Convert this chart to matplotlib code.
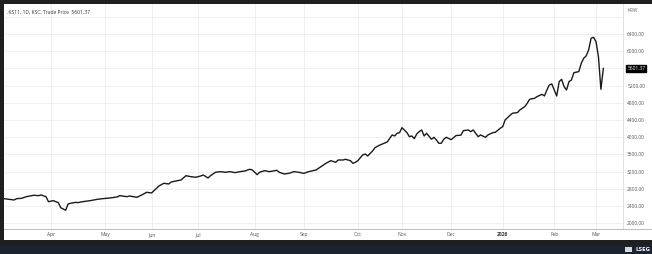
"""
KOSPI (.KS11) daily close, Mar 2025 - Mar 2026, LSEG-style chart
"""

import matplotlib.pyplot as plt
from matplotlib.patches import Rectangle
from matplotlib.lines import Line2D

plt.rcParams['font.family'] = ['Open Sans', 'DejaVu Sans']

# trading days counted from 1 Apr 2025 (negative = March 2025)
trading_day = [
    -19, -15, -14, -12, -10, -7, -5, -4, -2, -1, 1, 3, 4, 5, 6, 7, 8, 10, 11, 13,
    16, 19, 21, 24, 27, 28, 31, 32, 35, 37, 39, 41, 43, 44, 46, 48, 49, 51, 53, 55,
    57, 59, 61, 62, 64, 65, 67, 69, 71, 73, 75, 77, 79, 81, 82, 84, 85, 87, 89, 92,
    93, 95, 97, 99, 101, 103, 105, 108, 110, 112, 114, 116, 117, 119, 120, 122, 123, 124, 125, 127,
    128, 129, 131, 132, 134, 135, 137, 138, 139, 140, 141, 142, 143, 145, 146, 147, 148, 149, 150, 151,
    152, 153, 155, 156, 157, 158, 159, 160, 161, 163, 164, 165, 167, 168, 170, 171, 172, 173, 174, 175,
    177, 178, 180, 181, 183, 184, 185, 187, 188, 190, 191, 193, 194, 195, 197, 198, 200, 201, 202, 203,
    204, 206, 207, 208, 209, 210, 211, 212, 213, 215, 216, 217, 218, 219, 220, 221, 222, 223, 224, 225,
]
close_price = [
    2572, 2542, 2572, 2580, 2619, 2651, 2643, 2658, 2619, 2502, 2526, 2480, 2363, 2333, 2302, 2449, 2464, 2487, 2480, 2503,
    2526, 2558, 2572, 2588, 2612, 2643, 2619, 2635, 2604, 2658, 2721, 2705, 2814, 2868, 2930, 2914, 2961, 2984, 3007, 3107,
    3084, 3070, 3100, 3123, 3054, 3107, 3186, 3201, 3186, 3201, 3178, 3201, 3216, 3256, 3240, 3131, 3186, 3224, 3201, 3232,
    3186, 3147, 3162, 3201, 3186, 3160, 3201, 3240, 3317, 3395, 3456, 3418, 3472, 3472, 3488, 3456, 3395, 3418, 3456, 3589,
    3612, 3565, 3682, 3759, 3821, 3844, 3891, 3977, 4054, 4031, 4093, 4109, 4224, 4109, 4015, 4031, 3968, 4077, 4131, 4170,
    4031, 4093, 3954, 4000, 3938, 3861, 3861, 3954, 4000, 3945, 3990, 4040, 4050, 4154, 4170, 4131, 4170, 4093, 4015, 4054,
    4000, 4054, 4109, 4116, 4209, 4248, 4403, 4512, 4559, 4574, 4636, 4713, 4791, 4884, 4908, 4946, 5000, 4962, 5100, 5217,
    5240, 4961, 5294, 5349, 5178, 5100, 5294, 5333, 5503, 5527, 5721, 5838, 5892, 6031, 6303, 6326, 6224, 5875, 5117, 5601.37,
]
last_price = 5601.37

month_pos = [0, 22, 41, 60, 83, 103, 125, 143, 163, 184, 205, 222]
month_labels = ['Apr', 'May', 'Jun', 'Jul', 'Aug', 'Sep', 'Oct', 'Nov', 'Dec', '2026', 'Feb', 'Mar']

price_ticks = list(range(2000, 6801, 400))

W, H = 652, 254
fig = plt.figure(figsize=(W / 100, H / 100), dpi=100)
fig.patch.set_facecolor('#1f1f1f')

# white panel + dark footer bar
fig.add_artist(Rectangle((4 / W, 1 - 240 / H), 648 / W, 236 / H,
                         transform=fig.transFigure, facecolor='white', edgecolor='none', zorder=0))
fig.add_artist(Rectangle((0, 0), 1, 9 / H, transform=fig.transFigure,
                         facecolor='#1b2230', edgecolor='none', zorder=0))

ax = fig.add_axes([4 / W, 1 - 229 / H, 619 / W, 225 / H])
ax.set_facecolor('white')
ax.plot(trading_day, close_price, color='#1a1a1a', linewidth=1.0, zorder=3)

ax.set_xlim(-19.1, 233)
ax.set_ylim(1867, 7100)

ax.set_xticks(month_pos)
ax.set_xticklabels(month_labels, fontsize=3.6, color='#555555')
for lab in ax.get_xticklabels():
    if lab.get_text() == '2026':
        lab.set_fontweight('bold')
        lab.set_color('#333333')

ax.yaxis.tick_right()
ax.set_yticks(price_ticks)
ax.set_yticklabels(['' if v in (5600, 6800) else f'{v:.2f}' for v in price_ticks],
                   fontsize=3.5, color='#555555')
ax.tick_params(axis='both', length=0, pad=2.5)
ax.tick_params(axis='y', pad=3)

ax.grid(True, color='#ececec', linewidth=0.6, zorder=0)
for side in ['top', 'left']:
    ax.spines[side].set_visible(False)
ax.spines['right'].set_color('#dddddd')
ax.spines['right'].set_linewidth(0.6)
ax.spines['bottom'].set_color('#bbbbbb')
ax.spines['bottom'].set_linewidth(0.7)

# axis line continues under the price column
fig.add_artist(Line2D([623 / W, 1], [1 - 229 / H, 1 - 229 / H], transform=fig.transFigure,
                      color='#bbbbbb', linewidth=0.7))

# header text and currency tag
fig.text(7 / W, 1 - 12 / H, '.KS11, 1D, KSC, Trade Price  5601.37', fontsize=3.6,
         color='#333333', va='center', ha='left')
fig.text(628 / W, 1 - 11 / H, 'KRW', fontsize=3.4, color='#666666', va='center', ha='left')

# last price tag
ax.annotate(f'{last_price:.2f}', xy=(1.0, last_price), xycoords=('axes fraction', 'data'),
            xytext=(3, 0), textcoords='offset points', fontsize=3.5, color='white',
            va='center', ha='left', annotation_clip=False,
            bbox=dict(boxstyle='square,pad=0.25', facecolor='black', edgecolor='black'))

# footer logo
fig.text(651 / W, 4.5 / H, 'LSEG', fontsize=4.5, color='white', fontweight='bold',
         va='center', ha='right')
fig.add_artist(Rectangle((625 / W, 2 / H), 7 / W, 5 / H, transform=fig.transFigure,
                         facecolor='#d8d8d8', edgecolor='none'))

plt.savefig('out.png', dpi=100, facecolor=fig.get_facecolor())
plt.close()
